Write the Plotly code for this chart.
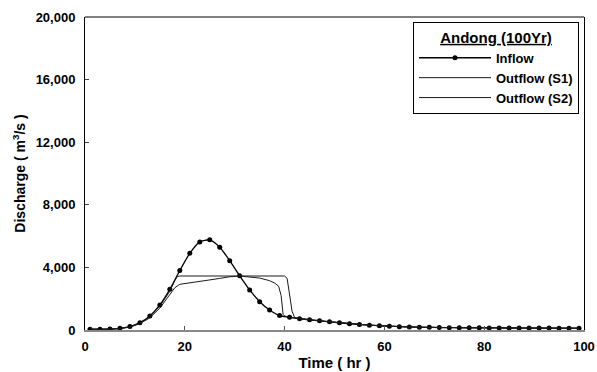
import plotly.graph_objects as go

inflow_t = list(range(1, 100, 2))
inflow_q = [50, 50, 60, 110, 220, 470, 900, 1600, 2600, 3800,
            4900, 5630, 5760, 5290, 4430, 3460, 2560, 1810, 1280, 920,
            810, 725, 650, 590, 520, 460, 400, 350, 310, 270,
            240, 215, 195, 180, 168, 158, 150, 145, 140, 136,
            133, 130, 128, 126, 124, 122, 120, 118, 116, 114]

s1_t = [1, 3, 5, 7, 9, 11, 13, 15, 17, 18, 18.5, 19, 30, 40, 40.5, 41, 41.5, 42, 43,
        45, 47, 49, 51, 53, 55, 57, 59, 61, 65, 71, 81, 91, 99]
s1_q = [45, 45, 55, 100, 200, 440, 850, 1520, 2480, 3150, 3420, 3450, 3450, 3450, 3300, 2200, 1200, 800, 725,
        650, 590, 520, 460, 400, 350, 310, 270, 240, 195, 158, 133, 122, 114]

s2_t = [1, 3, 5, 7, 9, 11, 13, 15, 17, 18, 19, 21, 23, 25, 27, 29, 31, 33, 35, 37, 38, 38.8, 39.3, 39.7, 40, 41, 43,
        45, 47, 49, 51, 53, 55, 57, 59, 61, 65, 71, 81, 91, 99]
s2_q = [40, 40, 50, 90, 180, 400, 780, 1400, 2300, 2700, 2920, 3000, 3080, 3200, 3300, 3400, 3450, 3400, 3320, 3150, 3000, 2800, 2200, 1000, 900, 810, 725,
        650, 590, 520, 460, 400, 350, 310, 270, 240, 195, 158, 133, 122, 114]

x_ticks = [0, 20, 40, 60, 80, 100]
y_ticks = [0, 4000, 8000, 12000, 16000, 20000]

FONT = "Liberation Sans, Arial, sans-serif"

fig = go.Figure()
fig.add_trace(go.Scatter(x=inflow_t, y=inflow_q, name="Inflow", mode="lines+markers",
                         line=dict(color="black", width=1.3, shape="spline", smoothing=0.6),
                         marker=dict(color="black", size=5, symbol="circle")))
fig.add_trace(go.Scatter(x=s1_t, y=s1_q, name="Outflow (S1)", mode="lines",
                         line=dict(color="#1a1a1a", width=1)))
fig.add_trace(go.Scatter(x=s2_t, y=s2_q, name="Outflow (S2)", mode="lines",
                         line=dict(color="#1a1a1a", width=1)))

fig.update_layout(
    width=597, height=372,
    margin=dict(l=85, r=13, t=17, b=42),
    paper_bgcolor="white", plot_bgcolor="white",
    font=dict(family=FONT, size=13, color="black"),
    showlegend=True,
    legend=dict(
        x=0.99, y=0.983, xanchor="right", yanchor="top",
        bordercolor="black", borderwidth=1, bgcolor="white",
        itemwidth=72, tracegroupgap=0,
        font=dict(family=FONT, size=13, color="black", weight="bold"),
        title=dict(text="<u>Andong (100Yr)</u>", side="top center",
                   font=dict(family=FONT, size=15, color="black", weight="bold")),
    ),
    xaxis=dict(
        range=[0, 100], tickvals=x_ticks, ticks="inside", ticklen=4, tickcolor="#555",
        showgrid=False, zeroline=False, showline=True, linecolor="#888", linewidth=2,
        automargin=False, ticklabelstandoff=3,
        tickfont=dict(family=FONT, size=13, weight="bold"),
        title=dict(text="<b>Time ( hr )</b>", font=dict(family=FONT, size=15), standoff=5),
    ),
    yaxis=dict(
        range=[0, 20000], tickvals=y_ticks, tickformat=",", ticks="inside", ticklen=4,
        showgrid=False, zeroline=False, showline=True, linecolor="black", linewidth=1,
        mirror=True, automargin=False, ticklabelstandoff=6,
        tickfont=dict(family=FONT, size=13, weight="bold"),
        title=dict(text="<b>Discharge ( m<sup>3</sup>/s )</b>", font=dict(family=FONT, size=14), standoff=6),
    ),
    shapes=[dict(type="line", xref="paper", yref="paper", x0=0, x1=1, y0=1, y1=1,
                 line=dict(color="black", width=1))],
)

fig.write_html("out.html", config={"displayModeBar": False})
with open("out.html", "r", encoding="utf-8") as f:
    html = f.read()
html = html.replace("<body>", '<body style="margin:0;padding:0;overflow:hidden">', 1)
with open("out.html", "w", encoding="utf-8") as f:
    f.write(html)
